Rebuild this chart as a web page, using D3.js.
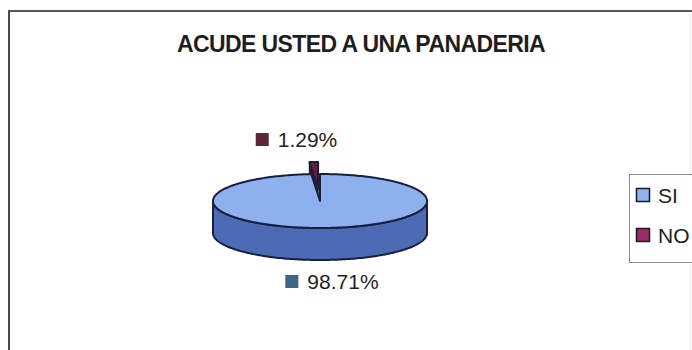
<!DOCTYPE html>
<html>
<head>
<meta charset="utf-8">
<script src="https://cdn.jsdelivr.net/npm/d3@7/dist/d3.min.js"></script>
<style>
  html, body { margin: 0; padding: 0; background: #fff; }
  svg { display: block; }
  text { font-family: "Liberation Sans", Arial, sans-serif; fill: #1e1e1e; }
</style>
</head>
<body>
<script>
// Survey answers: "¿Acude usted a una panadería?"
const categories = ["SI", "NO"];
const shares = [98.71, 1.29];
const valueLabels = ["98.71%", "1.29%"];
const title = "ACUDE USTED A UNA PANADERIA";

const W = 692, H = 350;
const topColors   = ["#8fb0ee", "#6c1f3c"];
const sideColors  = ["#4d6ab4", "#3c1022"];
const keyColors   = ["#3f6688", "#5b2636"];
const legendKeys  = ["#8fb4ec", "#9a2c68"];
const outline = "#17203c";

const svg = d3.select("body").append("svg").attr("width", W).attr("height", H);

// chart area frame (top and left edges, faint right edge)
svg.append("line").attr("x1", 9).attr("x2", W).attr("y1", 11).attr("y2", 11)
  .attr("stroke", "#5a5a5a").attr("stroke-width", 2);
svg.append("line").attr("x1", 9).attr("x2", 9).attr("y1", 10).attr("y2", H)
  .attr("stroke", "#4a4a4a").attr("stroke-width", 2);
svg.append("line").attr("x1", 690.5).attr("x2", 690.5).attr("y1", 14).attr("y2", H)
  .attr("stroke", "#ececec").attr("stroke-width", 1);

svg.append("text").attr("x", 361).attr("y", 52).attr("text-anchor", "middle")
  .style("font-size", "23px").style("font-weight", "bold")
  .style("letter-spacing", "-0.6px").text(title);

// 3D pie geometry: ellipse radii for the tilted disc and extrusion depth
const cx = 320, cy = 201, rx = 107, ry = 27, depth = 32;
const explode = 12 / ry; // outward offset of the NO slice (fraction of radius)

const pie = d3.pie().sort(null).startAngle(0).endAngle(2 * Math.PI)(shares);

// angle measured clockwise from 12 o'clock on the flat disc
function P(a, r = 1, dz = 0, off = [0, 0]) {
  return [cx + off[0] + rx * r * Math.sin(a), cy + off[1] - ry * r * Math.cos(a) + dz];
}
function offsetOf(i) {
  if (i !== 1) return [0, 0];
  const m = (pie[i].startAngle + pie[i].endAngle) / 2;
  return [rx * explode * Math.sin(m), -ry * explode * Math.cos(m)];
}
function arcPts(a0, a1, dz, off) {
  const n = Math.max(2, Math.ceil(Math.abs(a1 - a0) / 0.02));
  return d3.range(n + 1).map(k => P(a0 + (a1 - a0) * k / n, 1, dz, off));
}
const line = d3.line();

const g = svg.append("g");

// back-to-front: NO slice walls, SI outer side, SI top, NO top face
function drawSide(i) {
  const d = pie[i], off = offsetOf(i);
  const a0 = Math.max(d.startAngle, Math.PI / 2), a1 = Math.min(d.endAngle, 3 * Math.PI / 2);
  if (a1 <= a0) return;
  const topArc = arcPts(a0, a1, 0, off);
  const botArc = arcPts(a1, a0, depth, off);
  g.append("path").attr("d", line(topArc.concat(botArc)) + "Z")
    .attr("fill", sideColors[i]).attr("stroke", outline).attr("stroke-width", 2)
    .attr("stroke-linejoin", "round");
}
function drawWall(i, a) {
  const off = offsetOf(i);
  const c0 = P(a, 0, 0, off), r0 = P(a, 1, 0, off);
  const pts = [c0, r0, [r0[0], r0[1] + depth], [c0[0], c0[1] + depth]];
  g.append("path").attr("d", line(pts) + "Z")
    .attr("fill", sideColors[i]).attr("stroke", outline).attr("stroke-width", 1.2);
}
function drawTop(i) {
  const d = pie[i], off = offsetOf(i);
  const pts = [P(0, 0, 0, off)].concat(arcPts(d.startAngle, d.endAngle, 0, off));
  g.append("path").attr("d", line(pts) + "Z")
    .attr("fill", topColors[i]).attr("stroke", outline).attr("stroke-width", 2)
    .attr("stroke-linejoin", "round");
}

drawWall(1, pie[1].startAngle);
drawSide(0);
drawTop(0);
drawTop(1);

// data labels with legend keys
const midA = i => (pie[i].startAngle + pie[i].endAngle) / 2;
function dataLabel(i, x, y) {
  const lg = svg.append("g").attr("transform", `translate(${x},${y})`);
  lg.append("rect").attr("x", 0).attr("y", -14).attr("width", 13).attr("height", 13)
    .attr("fill", keyColors[i]);
  lg.append("text").attr("x", 22).attr("y", 0).style("font-size", "21px").text(valueLabels[i]);
}
{
  const pNo = P(midA(1), 1, 0, offsetOf(1));
  dataLabel(1, pNo[0] - 58, pNo[1] - 15);
  const pSi = P(midA(0), 1, depth);
  dataLabel(0, pSi[0] - 39, pSi[1] + 29);
}

// legend
const lx = 629, ly = 174;
const leg = svg.append("g");
leg.append("rect").attr("x", lx + 0.5).attr("y", ly + 0.5).attr("width", 80).attr("height", 88)
  .attr("fill", "#fff").attr("stroke", "#8a8a8a").attr("stroke-width", 1);
categories.forEach((c, i) => {
  const y = ly + 21 + i * 40;
  leg.append("rect").attr("x", lx + 7.5).attr("y", y - 6.5).attr("width", 13).attr("height", 13)
    .attr("fill", legendKeys[i]).attr("stroke", "#1a1a2a").attr("stroke-width", 1.5);
  leg.append("text").attr("x", lx + 29).attr("y", y + 7.5).style("font-size", "21px").text(c);
});
</script>
</body>
</html>
